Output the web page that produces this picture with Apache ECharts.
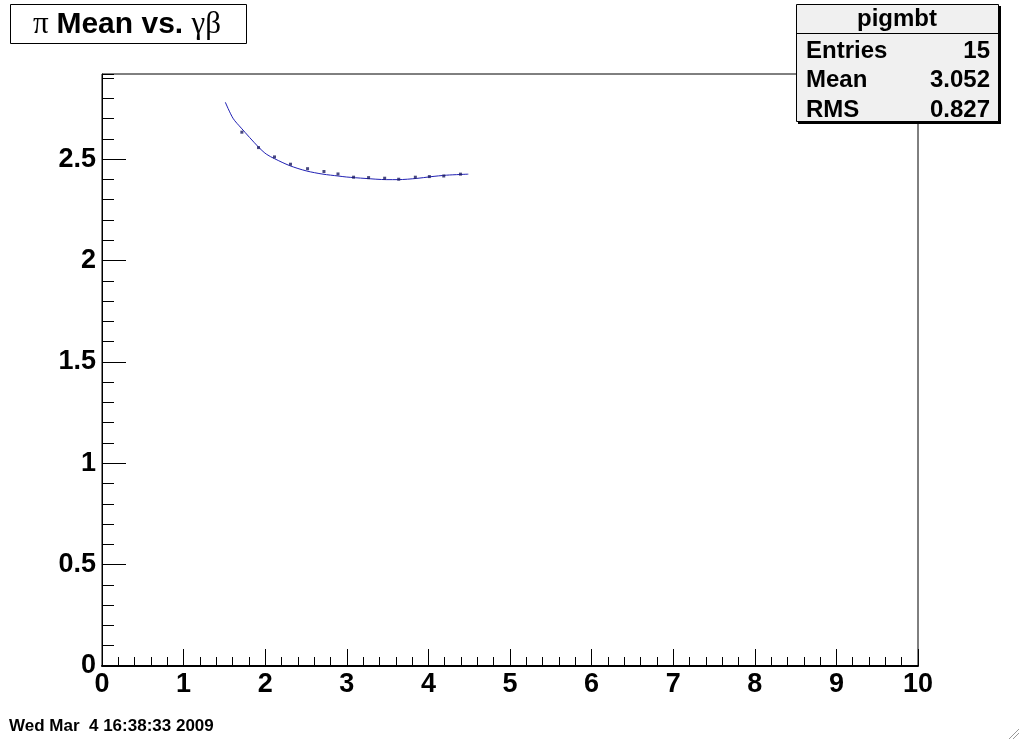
<!DOCTYPE html>
<html>
<head>
<meta charset="utf-8">
<title>pi Mean vs. gamma beta</title>
<script src="https://cdn.jsdelivr.net/npm/echarts@6/dist/echarts.min.js"></script>
<style>
  html, body { margin: 0; padding: 0; background: #fff; }
  #container { width: 1020px; height: 740px; }
</style>
</head>
<body>
<div id="container"></div>
<script>
// profile points (gamma*beta, mean)
const pointX = [1.714, 1.918, 2.114, 2.310, 2.519, 2.720, 2.892, 3.083, 3.267, 3.464, 3.636, 3.840, 4.012, 4.188, 4.393]
const pointY = [2.633, 2.557, 2.511, 2.475, 2.453, 2.439, 2.427, 2.411, 2.409, 2.406, 2.401, 2.411, 2.414, 2.417, 2.426]

// fitted curve
const fitX = [1.511, 1.605, 1.707, 1.912, 2.013, 2.116, 2.300, 2.504, 2.708, 2.892, 2.994, 3.223, 3.489, 3.627, 3.857, 4.020, 4.224, 4.489]
const fitY = [2.781, 2.702, 2.653, 2.562, 2.525, 2.502, 2.468, 2.442, 2.426, 2.417, 2.412, 2.405, 2.399, 2.399, 2.405, 2.413, 2.421, 2.426]

const yMajor = [0, 0.5, 1, 1.5, 2, 2.5]

const statsLabels = ['Entries', 'Mean', 'RMS']
const statsValues = ['15', '3.052', '0.827']

const sans = 'Liberation Sans, Arial, Helvetica, sans-serif'
const serif = 'Liberation Serif, Times New Roman, serif'

const statsGraphic = []
statsLabels.forEach((name, i) => {
  const y = 51 + i * 29.5
  statsGraphic.push({
    type: 'text', z: 12,
    style: { text: name, x: 806, y: y, fill: '#000', font: 'bold 24px ' + sans, textVerticalAlign: 'middle' }
  })
  statsGraphic.push({
    type: 'text', z: 12,
    style: { text: statsValues[i], x: 990, y: y, fill: '#000', font: 'bold 24px ' + sans, textAlign: 'right', textVerticalAlign: 'middle' }
  })
})

const option = {
  animation: false,
  backgroundColor: '#fff',
  grid: {
    left: 102,
    right: 102,
    top: 74,
    bottom: 74,
    show: true,
    borderColor: '#000',
    borderWidth: 1,
    backgroundColor: 'transparent',
    outerBoundsMode: 'none'
  },
  xAxis: {
    type: 'value',
    min: 0,
    max: 10,
    interval: 1,
    axisLine: { show: true, onZero: false, lineStyle: { color: '#000', width: 2 } },
    axisTick: { show: true, inside: true, length: 17, lineStyle: { color: '#000', width: 1 } },
    minorTick: { show: true, splitNumber: 5, length: 9, lineStyle: { color: '#000', width: 1 } },
    splitLine: { show: false },
    minorSplitLine: { show: false },
    axisLabel: { color: '#000', fontSize: 27, fontWeight: 'bold', fontFamily: sans, margin: 5 }
  },
  yAxis: [
    {
      type: 'value',
      min: 0,
      max: 2.92,
      interval: 0.5,
      position: 'left',
      axisLine: { show: true, onZero: false, lineStyle: { color: '#000', width: 1 } },
      axisTick: { show: true, inside: true, length: 24, customValues: yMajor, lineStyle: { color: '#000', width: 1 } },
      splitLine: { show: false },
      axisLabel: { color: '#000', fontSize: 27, fontWeight: 'bold', fontFamily: sans, margin: 6, customValues: yMajor }
    },
    {
      // minor ticks every 0.1
      type: 'value',
      min: 0,
      max: 2.92,
      interval: 0.1,
      position: 'left',
      axisLine: { show: false },
      axisTick: { show: true, inside: true, length: 12, lineStyle: { color: '#000', width: 1 } },
      splitLine: { show: false },
      axisLabel: { show: false }
    }
  ],
  series: [
    {
      name: 'fit',
      type: 'line',
      yAxisIndex: 0,
      data: fitX.map((x, i) => [x, fitY[i]]),
      showSymbol: false,
      smooth: 0.3,
      lineStyle: { color: '#2020b4', width: 1 },
      z: 3
    },
    {
      name: 'pigmbt',
      type: 'scatter',
      yAxisIndex: 0,
      data: pointX.map((x, i) => [x, pointY[i]]),
      symbol: 'rect',
      symbolSize: 3,
      itemStyle: { color: '#1c1c60' },
      z: 4
    }
  ],
  graphic: [
    // title box
    {
      type: 'rect', z: 10,
      shape: { x: 10.5, y: 4.5, width: 236, height: 39 },
      style: { fill: '#fff', stroke: '#000', lineWidth: 1 }
    },
    {
      type: 'text', z: 11,
      style: {
        x: 127, y: 25,
        text: '{g|π }{b|Mean vs. }{g|γβ}',
        textAlign: 'center',
        textVerticalAlign: 'middle',
        rich: {
          g: { fontFamily: serif, fontSize: 31, fill: '#000' },
          b: { fontFamily: sans, fontSize: 30, fontWeight: 'bold', fill: '#000' }
        }
      }
    },
    // stats box with shadow
    {
      type: 'rect', z: 10,
      shape: { x: 798, y: 6, width: 203, height: 118 },
      style: { fill: '#000' }
    },
    {
      type: 'rect', z: 11,
      shape: { x: 796.5, y: 4.5, width: 202, height: 117 },
      style: { fill: '#f0f0f0', stroke: '#000', lineWidth: 1 }
    },
    {
      type: 'line', z: 12,
      shape: { x1: 797, y1: 33.5, x2: 998, y2: 33.5 },
      style: { stroke: '#000', lineWidth: 1 }
    },
    {
      type: 'text', z: 12,
      style: { text: 'pigmbt', x: 897, y: 19, fill: '#000', font: 'bold 24px ' + sans, textAlign: 'center', textVerticalAlign: 'middle' }
    },
    ...statsGraphic,
    // date stamp
    {
      type: 'text', z: 10,
      style: { text: 'Wed Mar  4 16:38:33 2009', x: 9, y: 726, fill: '#000', font: 'bold 17px ' + sans, textVerticalAlign: 'middle' }
    },
    // resize grip
    {
      type: 'line', z: 10,
      shape: { x1: 1009, y1: 739, x2: 1019, y2: 729 },
      style: { stroke: '#999', lineWidth: 1 }
    },
    {
      type: 'line', z: 10,
      shape: { x1: 1013, y1: 739, x2: 1019, y2: 733 },
      style: { stroke: '#999', lineWidth: 1 }
    }
  ]
}

const dom = document.getElementById('container')
const myChart = echarts.init(dom)
myChart.setOption(option, true)
window.addEventListener('resize', () => {
  myChart.resize()
})
</script>
</body>
</html>
